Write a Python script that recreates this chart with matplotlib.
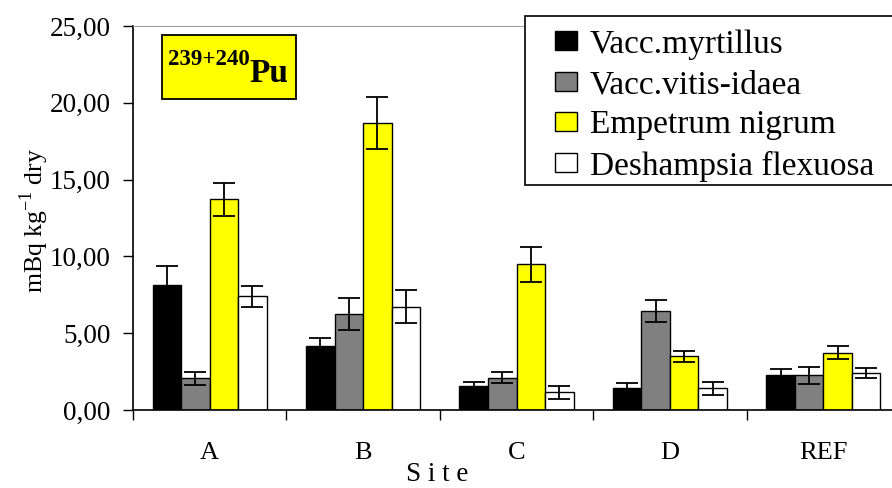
import matplotlib
matplotlib.use("Agg")
import matplotlib.pyplot as plt
import numpy as np
from matplotlib.patches import Rectangle
from matplotlib.ticker import FuncFormatter, FixedLocator

plt.rcParams['font.family'] = ['Liberation Serif', 'DejaVu Serif']
plt.rcParams['mathtext.fontset'] = 'custom'
plt.rcParams['mathtext.rm'] = 'Liberation Serif'
plt.rcParams['mathtext.bf'] = 'Liberation Serif:bold'

# data (mBq/kg dry, mean and error)
sites = ['A', 'B', 'C', 'D', 'REF']
species = ['Vacc.myrtillus', 'Vacc.vitis-idaea', 'Empetrum nigrum', 'Deshampsia flexuosa']
myrtillus = [8.12, 4.19, 1.58, 1.43, 2.28]
myrtillus_err = [1.23, 0.50, 0.26, 0.33, 0.41]
vitis = [2.06, 6.23, 2.10, 6.45, 2.26]
vitis_err = [0.43, 1.04, 0.37, 0.71, 0.54]
empetrum = [13.72, 18.71, 9.48, 3.49, 3.73]
empetrum_err = [1.06, 1.69, 1.15, 0.37, 0.41]
deshampsia = [7.40, 6.73, 1.15, 1.41, 2.39]
deshampsia_err = [0.69, 1.06, 0.41, 0.43, 0.32]

values = [myrtillus, vitis, empetrum, deshampsia]
errors = [myrtillus_err, vitis_err, empetrum_err, deshampsia_err]
colors = ['black', '#808080', '#ffff00', 'white']

fig = plt.figure(figsize=(8.92, 4.88), dpi=100)
ax = fig.add_axes([133 / 892, 1 - 410 / 488, 767 / 892, 384 / 488])

x = np.arange(len(sites))
width = 0.186
for i, (vals, errs, col, name) in enumerate(zip(values, errors, colors, species)):
    ax.bar(x + (i - 1.5) * width, vals, width, color=col, edgecolor='black',
           linewidth=1.0, label=name, zorder=2,
           yerr=errs, capsize=8, error_kw=dict(ecolor='black', elinewidth=1.3, capthick=1.3))

ax.set_xlim(-0.5, 4.5)
ax.set_ylim(0, 25)
ax.set_yticks(np.arange(0, 26, 5))
ax.yaxis.set_major_formatter(FuncFormatter(lambda v, p: f"{v:.2f}".replace('.', ',')))
ax.tick_params(axis='y', direction='out', length=7, width=1, labelsize=19.5, pad=9)

ax.set_xticks(x)
ax.set_xticklabels(sites)
ax.xaxis.set_minor_locator(FixedLocator(np.arange(-0.5, 5, 1)))
ax.tick_params(axis='x', which='major', length=0, labelsize=19, pad=23)
ax.tick_params(axis='x', which='minor', direction='out', length=7, width=1)

for s in ['left', 'bottom']:
    ax.spines[s].set_linewidth(1.2)
ax.spines['top'].set_color('#a0a0a0')
ax.spines['right'].set_visible(False)

ax.set_ylabel('mBq kg$^{\\mathrm{-1}}$ dry', fontsize=18.5)
ax.yaxis.set_label_coords(-0.107, 0.495)
ax.set_xlabel('S i t e', fontsize=19.5)
ax.xaxis.set_label_coords(0.397, -0.136)

# isotope label box
ax.add_patch(Rectangle((0.038, 0.81), 0.174, 0.167, transform=ax.transAxes,
                       facecolor='#ffff00', edgecolor='black', linewidth=1.3, zorder=3))
ax.text(0.152, 0.854, 'Pu', transform=ax.transAxes, ha='left', va='baseline',
        fontsize=24, fontweight='bold', zorder=4)
ax.text(0.152, 0.898, '239+240', transform=ax.transAxes, ha='right', va='baseline',
        fontsize=16.5, fontweight='bold', zorder=4)

# legend frame drawn separately so the inner padding matches
fig.patches.append(Rectangle((525 / 892, 1 - 185 / 488), 380 / 892, 169 / 488,
                             transform=fig.transFigure, facecolor='white',
                             edgecolor='black', linewidth=1.2, zorder=5))
leg = fig.legend(loc='upper left', bbox_to_anchor=(555 / 892, 1 - 29 / 488), borderaxespad=0,
                 borderpad=0, fontsize=24, frameon=False,
                 handlelength=0.65, handleheight=0.5, handletextpad=0.4, labelspacing=0.3)
leg.set_zorder(6)

fig.savefig('out.png', dpi=100)
